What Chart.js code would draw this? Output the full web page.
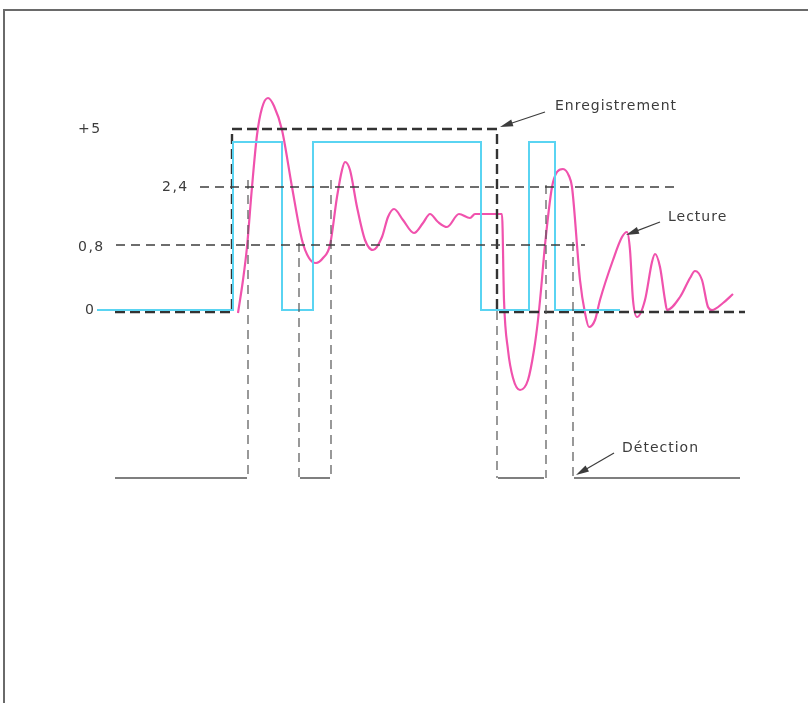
<!DOCTYPE html>
<html>
<head>
<meta charset="utf-8">
<script src="https://cdn.jsdelivr.net/npm/chart.js@4/dist/chart.umd.min.js"></script>
<style>
  html, body { margin: 0; padding: 0; background: #fff; }
  #wrap { position: relative; width: 808px; height: 703px; }
  #frame { position: absolute; left: 3px; top: 9px; right: -4px; bottom: -4px;
           border-left: 2px solid #6a6a6a; border-top: 2px solid #6a6a6a; }
  canvas { position: absolute; left: 0; top: 0; }
</style>
</head>
<body>
<div id="wrap">
  <div id="frame"></div>
  <canvas id="chart" width="808" height="703"></canvas>
</div>
<script>
// Echelle : t en unités de temps, v en unités de niveau (schéma, non à l'échelle)

// Signal carré (bleu clair)
const cyanT = [9.7, 23.3, 28.2, 31.3, 48.1, 52.9, 55.5, 62.0];
const cyanV = [0.1, 16.9, 0.1, 16.9, 0.1, 16.9, 0.1, 0.1];

// Enregistrement (tirets noirs)
const recT = [11.5, 23.2, 49.7, 74.5];
const recV = [-0.1, 18.2, -0.1, -0.1];

// Seuils 2,4 et 0,8
const seuilHautT = [20.0, 67.5];
const seuilHautV = 12.4;
const seuilBasT = [11.6, 58.5];
const seuilBasV = 6.6;

// Détection : niveau bas et traits verticaux
const detV = -16.7;
const detSegments = [[11.5, 24.7], [30.0, 33.0], [49.8, 54.4], [57.4, 74.0]];
const detDropT = [24.8, 29.9, 33.1, 49.7, 54.6, 57.3];
const detDropTop = [13.1, 6.8, 13.1, 0.0, 12.6, 6.9];

// Lecture (courbe rose)
const lectT = [23.8, 24.3, 24.7, 25.2, 25.7, 26.2, 26.8, 27.4, 28.2, 29.2, 30.2, 30.9, 31.6, 32.3, 33.0,
  33.7, 34.2, 34.5, 35.0, 35.7, 36.5, 37.3, 38.2, 38.8, 39.4, 40.3, 41.4, 42.3, 43.0, 43.8, 44.7,
  45.9, 47.0, 47.5, 50.2, 50.4, 50.8, 51.3, 52.0, 52.8, 53.4, 53.8, 54.1, 54.5, 55.2, 55.7, 56.3, 56.9,
  57.2, 58.0, 58.5, 58.9, 59.5, 60.0, 61.3, 62.2, 62.7, 63.0, 63.3, 63.7, 64.5, 65.2, 65.5, 66.0,
  66.5, 66.7, 68.0, 69.0, 69.5, 70.2, 70.8, 71.2, 72.3, 73.3];
const lectV = [-0.2, 3.1, 6.4, 12.4, 17.6, 20.3, 21.3, 20.5, 18.1, 12.4, 7.1, 5.3, 4.8, 5.3, 6.6,
  11.4, 14.1, 14.9, 14.1, 10.4, 7.1, 6.1, 7.4, 9.4, 10.2, 9.1, 7.8, 8.8, 9.7, 8.9, 8.4,
  9.7, 9.3, 9.7, 9.7, 1.1, -3.9, -6.7, -7.9, -6.9, -3.9, -0.9, 2.1, 6.6, 12.4, 13.9, 14.2, 13.5,
  12.4, 3.1, -0.2, -1.6, -0.9, 1.1, 5.1, 7.4, 7.9, 6.1, 1.1, -0.6, 1.1, 4.9, 5.7, 4.4,
  1.1, 0.1, 1.4, 3.3, 4.0, 3.1, 0.4, 0.1, 0.8, 1.7];

// Textes
const tickLabels = ['+5', '2,4', '0,8', '0'];
const tickT = [7.8, 16.2, 7.8, 8.5];
const tickV = [18.2, 12.4, 6.4, 0.1];

const notes = [
  { text: 'Enregistrement', t: 55.5, v: 20.5, from: [54.5, 19.9], to: [50.0, 18.4] },
  { text: 'Lecture', t: 66.8, v: 9.4, from: [66.0, 8.9], to: [62.6, 7.6] },
  { text: 'Détection', t: 62.2, v: -13.7, from: [61.4, -14.2], to: [57.6, -16.4] }
];

const pts = (ts, vs) => ts.map((t, i) => ({ x: t, y: Array.isArray(vs) ? vs[i] : vs }));

const detData = [];
detSegments.forEach(s => {
  detData.push({ x: s[0], y: detV }, { x: s[1], y: detV }, { x: s[1], y: null });
});
const dropData = [];
detDropT.forEach((t, i) => {
  dropData.push({ x: t, y: detDropTop[i] }, { x: t, y: detV }, { x: t, y: null });
});

const INK = '#3c3c3c';

const textPlugin = {
  id: 'textes',
  afterDatasetsDraw(chart) {
    const { ctx, scales: { x, y } } = chart;
    ctx.save();
    ctx.fillStyle = INK;
    ctx.textBaseline = 'middle';
    ctx.textAlign = 'left';
    ctx.font = '14px "DejaVu Sans"';
    ctx.letterSpacing = '1.5px';
    tickLabels.forEach((lab, i) => {
      ctx.fillText(lab, x.getPixelForValue(tickT[i]), y.getPixelForValue(tickV[i]));
    });
    ctx.letterSpacing = '1px';
    notes.forEach(n => {
      ctx.fillText(n.text, x.getPixelForValue(n.t), y.getPixelForValue(n.v));
      const x0 = x.getPixelForValue(n.from[0]), y0 = y.getPixelForValue(n.from[1]);
      const x1 = x.getPixelForValue(n.to[0]), y1 = y.getPixelForValue(n.to[1]);
      const a = Math.atan2(y1 - y0, x1 - x0);
      ctx.strokeStyle = INK;
      ctx.lineWidth = 1.2;
      ctx.beginPath();
      ctx.moveTo(x0, y0);
      ctx.lineTo(x1 - 8 * Math.cos(a), y1 - 8 * Math.sin(a));
      ctx.stroke();
      ctx.beginPath();
      ctx.moveTo(x1, y1);
      ctx.lineTo(x1 - 13 * Math.cos(a) + 3.5 * Math.sin(a), y1 - 13 * Math.sin(a) - 3.5 * Math.cos(a));
      ctx.lineTo(x1 - 13 * Math.cos(a) - 3.5 * Math.sin(a), y1 - 13 * Math.sin(a) + 3.5 * Math.cos(a));
      ctx.closePath();
      ctx.fill();
    });
    ctx.restore();
  }
};

new Chart(document.getElementById('chart'), {
  type: 'line',
  data: {
    datasets: [
      { data: pts(seuilHautT, seuilHautV), borderColor: '#3e3e3e', borderWidth: 1.3, borderDash: [9, 6] },
      { data: pts(seuilBasT, seuilBasV), borderColor: '#3e3e3e', borderWidth: 1.3, borderDash: [9, 6] },
      { data: dropData, borderColor: '#555555', borderWidth: 1.2, borderDash: [9, 6], spanGaps: false },
      { data: detData, borderColor: '#555555', borderWidth: 1.3, spanGaps: false },
      { data: pts(cyanT, cyanV), borderColor: '#5ad4f2', borderWidth: 2, stepped: 'before' },
      { data: pts(recT, recV), borderColor: '#333333', borderWidth: 2.4, borderDash: [10, 5], stepped: 'before' },
      { data: pts(lectT, lectV), borderColor: '#f052ad', borderWidth: 2.2, cubicInterpolationMode: 'monotone' }
    ]
  },
  options: {
    responsive: false,
    animation: false,
    events: [],
    layout: { padding: 0 },
    elements: { point: { radius: 0 } },
    plugins: { legend: { display: false }, tooltip: { enabled: false } },
    scales: {
      x: { type: 'linear', min: 0, max: 80.8, display: false },
      y: { type: 'linear', min: -39.2, max: 31.1, display: false }
    }
  },
  plugins: [textPlugin]
});
</script>
</body>
</html>
